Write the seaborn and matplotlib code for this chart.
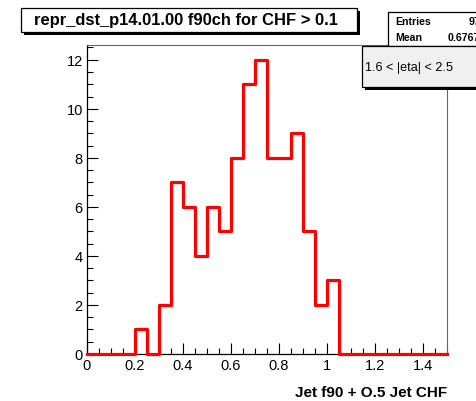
import matplotlib
matplotlib.use("Agg")
import matplotlib.pyplot as plt
from matplotlib.patches import Rectangle
from matplotlib.ticker import MultipleLocator
import numpy as np
import pandas as pd
import seaborn as sns

# histogram contents, 30 bins of width 0.05 from 0 to 1.5
bin_edges = np.linspace(0.0, 1.5, 31)
counts = [0, 0, 0, 0, 1, 0, 2, 7, 6, 4,
          6, 5, 8, 11, 12, 8, 8, 9, 5, 2,
          3, 0, 0, 0, 0, 0, 0, 0, 0, 0]
bin_centers = (bin_edges[:-1] + bin_edges[1:]) / 2

title = "repr_dst_p14.01.00 f90ch for CHF > 0.1"
x_label = "Jet f90 + O.5 Jet CHF"
stats_names = ["Entries", "Mean"]
stats_values = ["97", "0.6767"]
eta_text = "1.6 < |eta| < 2.5"

plt.rcParams['font.family'] = ['Liberation Sans', 'DejaVu Sans']

W, H = 477, 402
fig = plt.figure(figsize=(W / 100, H / 100), dpi=100)


def fx(px):
    return px / W


def fy(py):
    return 1 - py / H


df = pd.DataFrame({"x": bin_centers, "n": counts})

# -----------------------------
# Histogram
# -----------------------------
ax = fig.add_axes([fx(87), fy(355), fx(447 - 87), (355 - 46) / H])
sns.histplot(data=df, x="x", weights="n", binwidth=0.05, binrange=(0, 1.5),
             element="step", fill=False, color="red", linewidth=2.3, ax=ax)
for line in ax.lines:
    line.set_clip_on(False)
    line.set_zorder(5)
ax.set_xlim(0, 1.5)
ax.set_ylim(0, 12.6)
ax.set_ylabel("")
ax.set_xlabel("")

ax.xaxis.set_minor_locator(MultipleLocator(0.05))
ax.yaxis.set_major_locator(MultipleLocator(2))
ax.yaxis.set_minor_locator(MultipleLocator(0.5))
ax.set_xticks([0, 0.2, 0.4, 0.6, 0.8, 1.0, 1.2, 1.4])
ax.set_xticklabels(["0", "0.2", "0.4", "0.6", "0.8", "1", "1.2", "1.4"])
ax.tick_params(which="both", direction="in", labelsize=10.5, width=0.8)
ax.tick_params(which="major", length=8, pad=3)
ax.tick_params(which="minor", length=4)
for side in ["top", "right"]:
    ax.spines[side].set_color("#666666")
    ax.spines[side].set_linewidth(0.8)
for side in ["left", "bottom"]:
    ax.spines[side].set_linewidth(0.9)

fig.text(fx(447), fy(393), x_label, ha="right", va="center",
         fontsize=11, fontweight="bold")

# -----------------------------
# Title box
# -----------------------------
fig.add_artist(Rectangle((fx(24), fy(36)), fx(336), (33 - 9) / H,
                         transform=fig.transFigure, facecolor="black",
                         edgecolor="none", zorder=3))
fig.add_artist(Rectangle((fx(21), fy(33)), fx(336), (33 - 9) / H,
                         transform=fig.transFigure, facecolor="white",
                         edgecolor="black", linewidth=0.9, zorder=4))
fig.text(fx(186), fy(21), title, ha="center", va="center",
         fontsize=11.9, fontweight="bold", zorder=5)

# -----------------------------
# Stats box
# -----------------------------
fig.add_artist(Rectangle((fx(388), fy(47)), fx(95), (47 - 13) / H,
                         transform=fig.transFigure, facecolor="white",
                         edgecolor="black", linewidth=0.9, zorder=4))
for i, (name, val) in enumerate(zip(stats_names, stats_values)):
    yy = fy(22 + i * 16)
    fig.text(fx(395), yy, name, ha="left", va="center",
             fontsize=7.6, fontweight="bold", zorder=5)
    fig.text(fx(480), yy, val, ha="right", va="center",
             fontsize=7.6, fontweight="bold", zorder=5)

# -----------------------------
# Eta box
# -----------------------------
fig.add_artist(Rectangle((fx(365), fy(91)), fx(120), (88 - 47) / H,
                         transform=fig.transFigure, facecolor="black",
                         edgecolor="none", zorder=6))
fig.add_artist(Rectangle((fx(362), fy(88)), fx(120), (88 - 47) / H,
                         transform=fig.transFigure, facecolor="#f0f0f0",
                         edgecolor="black", linewidth=0.9, zorder=7))
fig.text(fx(365), fy(68), eta_text, ha="left", va="center",
         fontsize=9.1, zorder=8)

fig.savefig("out.png", dpi=100)
